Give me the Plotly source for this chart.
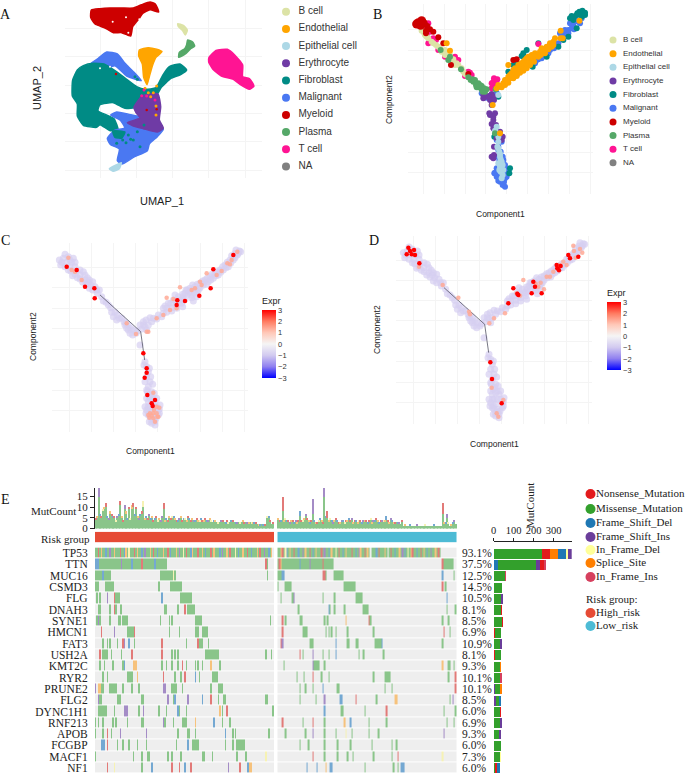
import re
import plotly.graph_objects as go

W, H = 685, 777
SANS = "Liberation Sans"
SERIF = "Liberation Serif"

# ---------- categories ----------
cell_types = ["B cell", "Endothelial", "Epithelial cell", "Erythrocyte", "Fibroblast",
              "Malignant", "Myeloid", "Plasma", "T cell", "NA"]
cell_colors = ["#DCE3A6", "#FFA500", "#ADD8E6", "#6F3BA5", "#008B85",
               "#4A78F2", "#CD0000", "#55A868", "#FF1493", "#808080"]
CELL = dict(zip(cell_types, cell_colors))

# ---------- panel A: UMAP outlines ----------
a_myeloid = [(274,30),(300,26),(330,24),(365,24),(400,24),(425,14),(450,6),(466,12),(476,36),(450,29),(428,40),(418,55),(398,80),(392,108),(365,98),(340,98),(315,84),(285,72),(272,52)]
a_bcell = [(533,71),(550,76),(562,90),(556,105),(548,92),(535,80)]
a_plasma = [(563,120),(578,126),(584,138),(572,146),(556,162),(536,172),(538,157),(554,146),(560,134)]
a_endothelial = [(418,150),(445,143),(470,148),(486,155),(468,172),(458,195),(448,230),(441,254),(431,232),(427,192),(416,168)]
a_tcell = [(627,172),(648,151),(682,148),(704,165),(728,195),(728,230),(748,236),(762,258),(748,268),(720,253),(700,238),(664,228),(638,207),(626,186)]
a_fibroblast = [(218,240),(232,210),(250,197),(280,190),(312,192),(345,212),(380,238),(410,260),(435,268),(468,263),(488,226),(508,200),(540,192),(560,210),(542,224),(512,236),(484,262),(468,288),(442,298),(410,322),(375,325),(340,308),(300,314),(294,332),(342,356),(354,390),(330,392),(300,374),(290,382),(250,376),(232,348),(232,312),(217,288)]
a_malignant_top = [(272,191),(295,175),(320,156),(352,162),(375,190),(398,213),(424,242),(380,228),(345,197),(310,208),(288,198)]
a_malignant_low = [(332,345),(350,336),(385,343),(424,352),(400,368),(440,382),(490,388),(472,410),(448,432),(442,452),(400,472),(366,492),(352,482),(358,447),(332,434),(322,416),(342,392),(374,383),(360,360)]
a_erythrocyte = [(402,322),(426,288),(448,282),(474,282),(482,320),(478,360),(490,385),(472,396),(430,386),(400,378),(382,368),(420,354),(408,338)]
a_epithelial = [(328,506),(350,494),(364,488),(358,506),(340,514)]
a_fibro_patch = [(338,393),(375,396),(365,414),(345,412)]
a_fibro_dots = [(385,405),(400,420),(378,428),(412,395),(350,430),(420,440),(432,375),(350,220),(240,272),(230,272),(405,230),(412,238),(392,418),(368,420)]
a_orange_dots = [(445,278),(460,278),(468,318),(468,345),(435,265),(452,290),(470,258)]
a_pink_dots = [(425,287),(440,288),(465,300),(432,270)]
a_red_dots = [(470,328),(348,222),(385,50),(440,330)]
a_white_dots = [(338,65),(378,52),(418,58),(385,98),(300,205),(330,200)]

# ---------- panel B: trajectory cells ----------
b_malignant = [(545,190),(560,180),(625,130),(640,105),(655,90),(670,80),(685,65),(695,55),(650,100),(665,85),(635,115),(620,135),(600,150),(580,165),(565,178),(545,185),(560,170),(510,200),(490,225),(470,240),(450,260),(630,100),(645,90),(660,70),(410,293),(395,280),(430,285),(440,280),(425,290),(445,440),(455,425),(440,420),(458,470),(450,490),(440,505),(455,505),(465,505),(475,510),(435,518),(445,520),(460,520),(470,520),(440,530),(450,535),(465,535),(450,545),(460,548),(465,560),(458,555),(445,470),
               (670,70),(680,60),(690,70),(672,88),(655,100),(640,95),(612,145),(595,160),(575,175),(555,190),(535,195),(520,205),(500,225),(445,450),(452,455),(448,480),(460,480),(455,495),(465,495),(445,510),(433,520),(455,528),(445,542),(455,542),(462,545),(470,530)]
b_fibroblast = [(700,38),(690,42),(680,45),(672,50),(665,48),(695,50),(705,45),(655,110),(640,120),(680,85),(625,140),(590,170),(548,200),(515,168),(490,195),(475,215),(498,180),(530,150),(565,130),(525,175),(480,505),(478,520),(445,290),(433,410),
                (688,35),(697,32),(705,38),(682,40),(660,55),(670,60),(500,190),(520,160)]
b_erythrocyte = [(425,282),(430,290),(400,295),(408,290),(420,300),(425,315),(420,345),(435,340),(430,360),(438,375),(430,385),(450,395),(440,415),(455,420),(432,465),(430,475),(425,300),
                 (415,288),(400,285),(432,300),(418,340),(430,350),(425,372),(445,400),(458,410),(432,440),(425,470)]
b_epithelial = [(445,425),(442,440),(448,455),(450,470),(455,485),(450,500),(452,515),(458,525),(440,380),(238,118),(445,285),(435,392),
                (445,410),(440,400),(445,445),(450,462),(452,478),(445,490),(458,495),(448,510),(460,510),(455,535)]
b_bcell = [(215,92),(225,105),(245,125),(258,135),(270,145),(285,150),(292,165),(310,178),(320,190),(335,205),(345,222),(355,230),(300,172),
           (235,115),(250,130),(265,140),(275,155),(285,165),(300,165),(305,185),(315,195),(325,195),(340,215),(350,225),(215,85),(222,98),(230,110)]
b_tcell = [(235,70),(225,80),(235,130),(250,115),(265,150),(300,180),(325,180),(360,218),(345,228),(430,245),(435,255),(425,265),(442,238),(565,132),(475,238),(440,262),
           (240,95),(230,105),(230,88),(258,120),(285,170),(315,170),(355,215),(365,225),(432,235),(425,250),(440,240)]
b_myeloid = [(228,100),(240,88),(250,95),(265,112),(303,195),(280,130),(490,180),(500,178),(355,222),(232,78),(228,92)]
b_myeloid_core = [(205,68),(215,62),(212,76),(220,70),(200,72)]
b_plasma = [(300,170),(295,180),(272,150),(333,208),(362,240),(370,245),(378,255),(385,262),(395,268),(405,275),(375,240),(390,255),(410,268),(355,232),(435,400),(437,268),
            (385,250),(395,258),(402,265),(368,238),(380,262),(398,275)]
b_endothelial = [(440,265),(450,258),(460,250),(470,243),(480,235),(490,225),(500,215),(510,205),(520,200),(530,190),(540,180),(550,175),(560,165),(570,155),(580,150),(590,140),(600,130),(610,125),(495,205),(505,195),(515,190),(525,180),(485,220),(475,230),(545,165),(555,160),(565,170),(575,145),(530,175),(540,190),(475,195),(615,115),(632,115),(638,115),(632,92),(688,62),(428,315),(300,152),(290,130),(450,400),
                 (455,262),(465,255),(475,248),(490,235),(500,228),(510,218),(520,212),(530,205),(540,195),(552,185),(572,165),(585,160),(595,148),(605,140),(512,192),(520,185),(535,170),(550,168),(480,225),(465,240),(445,255),(490,210),(610,135)]

# ---------- panels C and D: expression on the trajectory ----------
cloud = [(190,100),(205,95),(220,100),(185,112),(200,112),(215,112),(195,125),(210,125),(225,125),(212,138),(228,138),(240,135),(225,148),(240,150),(255,150),(240,162),(255,165),(268,165),(258,178),(272,180),(285,185),(278,195),(292,205),(305,215),(318,232),(332,248),(335,262),(352,270),(365,280),(378,295),(392,310),(408,325),(390,325),(375,300),(350,285),
         (178,105),(182,120),(195,88),(210,105),(225,112),(205,135),(218,152),(232,158),(248,172),(265,172),(250,140),(262,158),(278,170),(290,195),(268,190),(298,195),(310,228),(325,240),(345,262),(340,275),(358,280),(372,290),(385,300),(400,315),(385,315),(398,330),(412,318),(380,310),
         (430,300),(438,285),(450,278),(425,312),(440,315),(460,280),(475,270),(490,265),(500,250),(515,248),(530,240),(545,235),(505,235),(520,225),(535,215),(550,215),(565,205),(580,195),(595,195),(610,180),(625,170),(640,160),(655,150),(670,135),(685,125),(700,105),(712,90),(718,78),(705,85),(690,105),(675,120),(660,135),(645,145),(630,155),(615,165),(600,175),(585,185),(570,190),(555,205),(540,225),(525,210),(590,215),(575,218),(590,200),
         (430,290),(420,300),(435,305),(455,290),(445,300),(470,282),(485,275),(500,262),(515,258),(530,250),(548,245),(490,250),(512,235),(495,243),(528,228),(545,225),(558,195),(570,200),(555,222),(572,210),(585,205),(600,188),(612,172),(620,178),(632,165),(648,152),(662,142),(678,128),(692,115),(705,98),(715,85),(722,80),(708,75),(695,92),(682,112),(668,125),(652,140),(636,148),(622,160),(608,168),(592,178),(578,180),(562,195),(548,208),(580,228),
         (420,360),(435,410),(440,425),(445,440),(440,455),(450,470),(445,485),(455,500),(448,515),(460,520),(445,530),(465,530),(450,545),(470,545),(440,555),(455,560),(475,555),(445,570),(460,575),(475,570),(455,585),(465,590),(465,600),(448,565),
         (432,420),(448,430),(452,455),(435,470),(458,478),(440,495),(462,505),(452,510),(440,520),(455,525),(470,520),(480,540),(478,552),(460,545),(435,545),(445,545),(438,565),(450,575),(468,580),(478,565),(455,595),(462,582),(448,590),(442,500)]
cloud_expr = [-0.9] * len(cloud)
c_hot = [(200,125),(230,135),(255,185),(283,190),(284,220),(430,385),(440,430),(440,443),(434,458),(442,510),(465,525),(455,535),(458,543),(532,226),(530,240),(555,228),(632,190),(640,133),(700,90),(598,212)]
c_mid = [(205,98),(225,140),(380,295),(408,327),(445,320),(470,280),(490,270),(500,218),(540,187),(575,195),(605,180),(620,145),(650,150),(682,115),(695,105),(712,80),(460,503),(445,570),(460,580),(470,545),(450,565),(475,575),(440,320),(530,250),(510,255),
         (462,555),(470,565),(455,572),(478,548),(465,590),(448,578),(472,575),(460,565),(520,222),(585,190),(600,170),(665,138),(690,118),(215,135),(245,165)]
d_hot = [(193,90),(210,97),(188,110),(203,110),(213,112),(226,137),(439,434),(444,484),(473,557),(508,212),(493,257),(523,232),(568,192),(573,207),(563,227),(593,227),(640,152),(673,112),(703,117),(678,122),(638,142),(198,100),(520,228),(650,145),(645,158)]
d_mid = [(225,147),(296,202),(343,240),(375,282),(378,290),(436,317),(450,302),(483,287),(538,187),(518,227),(528,234),(583,207),(608,177),(628,162),(648,142),(668,142),(688,84),(708,94),(458,587),(463,597),(478,547),(443,510),(618,177),(658,132),(590,195),(575,198),(600,215),(690,100),(695,120),(715,105)]
hot_value, mid_value = 3, 1.4
trunk_left = [(300,210),(422,320)]
trunk_down = [(422,320),(434,405)]
expr_ticks = [-3, -2, -1, 0, 1, 2, 3]

# ---------- panel E: oncoplot ----------
genes = ["TP53","TTN","MUC16","CSMD3","FLG","DNAH3","SYNE1","HMCN1","FAT3","USH2A","KMT2C","RYR2","PRUNE2","FLG2","DYNC1H1","RNF213","APOB","FCGBP","MACF1","NF1"]
percents = ["93.1%","37.5%","12.5%","14.5%","10.5%","8.1%","8.5%","6.9%","10.9%","8.1%","9.3%","10.1%","10.1%","8.5%","6.0%","6.9%","9.3%","6.0%","7.3%","6.0%"]
mut_types = ["Nonsense_Mutation","Missense_Mutation","Frame_Shift_Del","Frame_Shift_Ins","In_Frame_Del","Splice_Site","In_Frame_Ins"]
mut_letters = ["N","M","D","I","Y","S","R"]
mut_colors = ["#E31A1C","#33A02C","#1F78B4","#6A3D9A","#FFFF99","#FF7F00","#D6405E"]
mut_pale = ["#E27A78","#8AC58A","#74A8D2","#A48CC6","#F6F2B4","#F6C27C","#DC88A0"]
risk_names = ["High_risk","Low_risk"]
risk_colors = ["#E64B35","#4DBBD5"]

tp53_high = "MMNMSMMDMMIMMSMMMNMMDSMYMMMNMSMMDMIMMMSMNMMDMMMSMMNMDMMMSMIMMYMNMMDSMMMNMMSMDMMMNMSMMMDMIMMSMNMMMYMDMMSMMNMMDMMMSMNMMIMMDMS"
tp53_low = "MMSNMYDMSMMNMMDMMIMSMMNMDMSMMMNMIMMDMSMMYMNMMDMSMMMNMMDMISMMNMSM.MMMDMNMMMSM.MNMMDMMSMIMDMYMSNMMDMMNMSMDMMIMMSMNM"
high_rows = ["", "0-2D 3-17 18I 19-24 25D 26-31 32N 33-40 41D 42-49 118N 119",
 "0-4 5D 6-10 45-53 54Y 55 119", "0-2 7-12 44 52-59",
 "1 3 8I 13N 14-16 46D 59-66", "2 3 10 13N 14 17 18 48 49 57 62N 64-68",
 "1 2I 3 10 16 17 19-22 45 51 53 69-73 121", "4N 13I 22-26 27N 51 58 69-71 74-77",
 "5 8 10 15 19N 20I 23D 27 46N 63 71N 72-74 78", "3N 5-8 11 18 25N 46N 53 55 57 76-85 118 122",
 "3 6 12 19 20D 26-28S 46 49 53 57 60N 63 69 71 74 80S 86", "5 8 22-25 29S 47N 55 59 62N 69D 72 81-84",
 "0I 2-3S 4-5 10-14 19 25 30 47-48I 53-56 60 80 85-88", "2I 3-4 15-17 32 33 50I 54 55D 64I 74D 80N 85 89 90 118 119",
 "2-7 13 20-22I 30 33I 44 49 57D 58 63 86S 88 91N 123", "0 2 5 12 14 22 32 33 47I 48 54 60-63 69S 82D 88 93",
 "0 5 8N 11 17I 35I 57 64 65 69 90D 95 97 120", "4-6D 8N 15 19 23 29 35 56 64D 67-71 90 95 98-103",
 "0 26 32 36 37 50 53 59 74 75 81 98 104 118Y", "8N 13Y 32 39D 53N 58N 62D 66N 92I 100N 105-106D 107-108S"]
low_rows = ["", "0 1N 2S 3-14 15D 16-21 22I 23-30 31N 32-38 114N 115-121",
 "0-2 3-4D 31-32N 33 39-45 114D 122", "0 5-9 46-53 114N 116",
 "2 10 11I 31 39 54-58 117D", "14 35D 36 39 46 59-62 117 123",
 "3N 5 15 16 32 34 47S 63N 64 114 118", "3N 17-20 33 35 37 40 48 66 115N 119",
 "2N 3I 22-24 40D 48 49 54 55 67-71 72D 114", "15N 17 24I 31 35 40D 56 59 73",
 "4 24I 25-28 32 114S 118 119 122", "13 18 24N 30 35 66 74-77 118 123N",
 "15 19 24 31D 41 42 74 79 123N", "15 26 32I 43-44D 54N 68 81-82S 119 121I",
 "32D 44 45 60 75N 115 123", "3N 17 24N 32 46S 50D 63 75 117 122",
 "5 19 24I 32 40 47Y 51 63 69 70 115I", "15 21 32 41 50 65 79 82",
 "24N 32 41 48 52 66 79 83N 114Y", "20D 27D 33S 36-37D 60 80 83 85-87D"]

high_mis = [4,5,15,6,5,8,9,10,5,4, 7,6,5,5,3,5,6,11,5,3, 9,7,4,9,4,9,10,6,9,5, 4,6,7,10,4,5,4,6,4,5,
            3,4,5,3,4,3,5,9,3,4, 3,5,4,5,5,4,3,3,4,5, 3,4,4,3,5,4,3,4,3,3, 4,3,3,4,3,3,4,3,3,4,
            3,3,3,3,3,2,3,3,3,3, 2,3,2,3,3,3,3,2,2,3, 2,3,3,2,3,2,2,3,2,2, 2,2,2,1,1,2,1,1,2,5, 5,3,2,2]
high_other = [1,1,4,1,1,1,1,2,1,1, 1,1,1,1,1,1,1,2,1,1, 2,1,1,1,1,2,2,1,1,1, 1,1,1,3,1,1,1,1,1,1,
              1,1,1,1,1,1,1,3,1,1, 1,1,1,1,1,1,1,1,1,1, 1,1,1,1,1,1,1,1,1,1, 1,1,1,1,1,1,1,1,1,1,
              1,0,1,1,0,1,0,1,1,0, 1,1,1,0,1,1,0,1,1,0, 1,0,1,1,0,1,1,0,1,1, 1,1,0,1,1,0,1,1,0,1, 1,1,0,1]
high_kind = "NSIDNYSNDISNDNYIDNSNISDNYSNDNSIDNYSDNIDSNDNYSIINSDNSNYDSNDISNDYSNDNSIDNSYDNSNDISYNDSNYDINSDNYSDNSDINYDSNDISNYSDNYSDIDNSYDNS"
low_mis = [4,3,3,8,3,4,3,3,2,3, 3,2,3,2,3,6,3,3,4,6, 4,3,2,3,7,3,2,2,3,4, 3,2,15,5,5,3,4,3,2,3,
           4,3,2,2,3,3,2,3,3,4, 3,4,2,3,3,2,3,3,2,3, 3,3,2,3,4,2,3,3,4,3, 2,3,3,3,3,4,3,2,4,3,
           2,2,3,2,2,2,3,1,1,1, 1,1,1,1,1,1,1,1,1,1, 1,1,1,1,1,1,1,1,1,1, 1,1,1,1,7,2,2,5,2,1, 1,2,3,2]
low_other = [1,1,1,7,1,1,1,1,1,1, 1,1,1,1,1,2,1,1,1,1, 1,1,1,1,7,1,1,1,1,1, 1,1,4,1,3,1,1,1,1,1,
             1,1,1,1,1,1,1,1,1,1, 1,1,1,1,1,1,1,1,1,1, 1,1,1,1,1,1,1,1,1,1, 1,1,1,1,1,2,1,1,1,1,
             1,1,0,1,1,0,1,0,1,0, 0,1,0,0,0,0,1,0,0,0, 0,0,1,0,0,0,0,0,1,0, 0,0,0,0,5,1,1,2,1,0, 1,1,1,0]
low_kind = "SNDNSYDNI" "SNDISNDNYS" "INSDNIDSNY" "DSNIDNSYDI" "SNDNSIDYNS" "DNISNDSYND" "ISNDNYSIDN" "SDNIYSDNSI" "DSNYDISNDS" "NIDYSNDISN" "DSNYISDNSD" "YINDSNSDIY" "NSDIN"

mut_segments = [[("M",240),("N",42),("S",38),("D",40),("Y",12),("I",18)],
    [("D",20),("M",190),("I",22),("N",22),("R",5)], [("M",57),("R",3)], [("M",42)], [("M",35),("I",6)],
    [("M",35),("N",4)], [("M",38),("N",3)], [("N",4),("M",33)], [("M",30),("I",12)], [("N",4),("M",32)],
    [("M",30),("S",5)], [("M",33),("R",4)], [("I",3),("M",30),("S",4)], [("I",8),("M",17),("D",10)],
    [("M",30),("N",2)], [("M",32),("I",6)], [("M",28),("I",8)], [("M",33)], [("M",30),("Y",2)],
    [("M",5),("N",12),("D",14)]]
mut_bar_ticks = [0, 100, 200, 300]
mut_count_ticks = [0, 5, 10, 15]

# ---------- helpers ----------
def xs(p): return [q[0] for q in p]
def ys(p): return [q[1] for q in p]
def dom_x(a, b): return [a / W, b / W]
def dom_y(top, bottom): return [1 - bottom / H, 1 - top / H]

fig = go.Figure()
notes = []
def note(x, y, text, size, family=SANS, anchor="center", angle=0, color="#222222"):
    nudge = {"left": -2, "right": 2, "center": 0}[anchor]
    notes.append(dict(x=(x + nudge) / W, y=1 - y / H, xref="paper", yref="paper", text=text, showarrow=False,
                      font=dict(size=size, family=family, color=color), xanchor=anchor, yanchor="middle",
                      textangle=angle))

def panel_axes(n, px_x, px_y, xr, yr, xgrid, ygrid):
    grid = dict(showgrid=True, gridcolor="#F4F4F4", gridwidth=1, zeroline=False, showline=False,
                showticklabels=False, ticks="", tickmode="array")
    fig.layout[f"xaxis{n}"] = dict(domain=dom_x(*px_x), range=xr, tickvals=xgrid, anchor=f"y{n}", **grid)
    fig.layout[f"yaxis{n}"] = dict(domain=dom_y(*px_y), range=yr, tickvals=ygrid, anchor=f"x{n}", **grid)

def poly(p, color, n=1):
    fig.add_trace(go.Scatter(x=xs(p) + xs(p)[:1], y=ys(p) + ys(p)[:1], mode="lines", fill="toself",
                             fillcolor=color, line=dict(color=color, width=1.5, shape="spline", smoothing=0.5), hoverinfo="skip",
                             showlegend=False, xaxis=f"x{n}", yaxis=f"y{n}"))

def dots(p, color, size, n, opacity=1.0):
    fig.add_trace(go.Scatter(x=xs(p), y=ys(p), mode="markers", showlegend=False, xaxis=f"x{n}", yaxis=f"y{n}",
                             marker=dict(color=color, size=size, opacity=opacity, line=dict(width=0))))

# ---------- A ----------
panel_axes(1, (65, 262), (0, 178), [195, 786], [534, 0], [300, 408, 517, 625, 735], [85, 170, 255, 340, 425, 510])
poly(a_myeloid, CELL["Myeloid"]); poly(a_bcell, CELL["B cell"]); poly(a_plasma, CELL["Plasma"])
poly(a_endothelial, CELL["Endothelial"]); poly(a_tcell, CELL["T cell"])
poly(a_malignant_top, CELL["Malignant"]); poly(a_fibroblast, CELL["Fibroblast"])
poly(a_malignant_low, CELL["Malignant"]); poly(a_fibro_patch, CELL["Fibroblast"])
poly(a_erythrocyte, CELL["Erythrocyte"]); poly(a_epithelial, CELL["Epithelial cell"])
dots(a_fibro_dots, CELL["Fibroblast"], 3, 1); dots(a_orange_dots, CELL["Endothelial"], 3, 1)
dots(a_pink_dots, CELL["T cell"], 3, 1); dots(a_red_dots, CELL["Myeloid"], 2.5, 1); dots(a_white_dots, "#FFFFFF", 2, 1)
note(162, 201, "UMAP_1", 11); note(37, 88, "UMAP_2", 11, angle=-90)

# ---------- B ----------
panel_axes(2, (408.3, 592.7), (4, 194), [175, 728], [582, 12],
           [220, 283, 347, 408, 470, 533, 595, 657, 720], [88, 150, 212, 273, 335, 395, 458, 518, 580])
for pts, name in [(b_malignant, "Malignant"), (b_fibroblast, "Fibroblast"), (b_erythrocyte, "Erythrocyte"),
                  (b_epithelial, "Epithelial cell"), (b_tcell, "T cell"), (b_bcell, "B cell"), (b_myeloid, "Myeloid"),
                  (b_plasma, "Plasma"), (b_endothelial, "Endothelial")]:
    dots(pts, CELL[name], 6, 2)
dots(b_myeloid_core, CELL["Myeloid"], 9, 2)
note(500, 214, "Component1", 8.5); note(389, 100, "Component2", 8.5, angle=-90)

# ---------- C, D ----------
colorscale = [[0, "#0000FF"], [1/6, "#8F7FF0"], [2/6, "#D2CAF0"], [0.5, "#F5F5F5"], [4/6, "#FFC8B8"], [5/6, "#FF7A60"], [1, "#FF0000"]]
def expr_panel(n, px_x, px_y, hot, mid, bar_x, bar_top):
    panel_axes(n, px_x, px_y, [155, 745], [620, 55], [208, 274, 340, 406, 472, 538, 603, 669, 735],
               [128, 188, 250, 310, 372, 433, 495, 556, 617])
    fig.add_trace(go.Scatter(x=xs(cloud), y=ys(cloud), mode="markers", showlegend=False, xaxis=f"x{n}", yaxis=f"y{n}",
                             marker=dict(color=cloud_expr, colorscale=colorscale, cmin=-3, cmax=3, size=7, opacity=0.7, line=dict(width=0))))
    for seg in (trunk_left, trunk_down):
        fig.add_trace(go.Scatter(x=xs(seg), y=ys(seg), mode="lines", line=dict(color="#555566", width=0.8),
                                 showlegend=False, hoverinfo="skip", xaxis=f"x{n}", yaxis=f"y{n}"))
    fig.add_trace(go.Scatter(x=xs(mid), y=ys(mid), mode="markers", showlegend=False, xaxis=f"x{n}", yaxis=f"y{n}",
                             marker=dict(color=[mid_value] * len(mid), colorscale=colorscale, cmin=-3, cmax=3, size=4.5, opacity=0.85, line=dict(width=0))))
    fig.add_trace(go.Scatter(x=xs(hot), y=ys(hot), mode="markers", showlegend=False, xaxis=f"x{n}", yaxis=f"y{n}",
                             marker=dict(color=[hot_value] * len(hot), colorscale=colorscale, cmin=-3, cmax=3, size=4.5, line=dict(width=0),
                                         colorbar=dict(x=bar_x / W, xanchor="left", y=1 - bar_top / H, yanchor="top",
                                                       thicknessmode="pixels", thickness=14, lenmode="pixels", len=68,
                                                       xpad=0, ypad=0, outlinewidth=0, ticks="", tickvals=expr_ticks,
                                                       tickfont=dict(size=7.5, family=SANS, color="#333333")))))
expr_panel(3, (51.7, 248.3), (243.3, 431.7), c_hot, c_mid, 262, 310)
expr_panel(4, (395.7, 592.3), (236, 424.3), d_hot, d_mid, 606.5, 302.5)
note(150, 451, "Component1", 8.5); note(33, 337, "Component2", 8.5, angle=-90)
note(494, 444, "Component1", 8.5); note(377, 330, "Component2", 8.5, angle=-90)
note(262, 301, "Expr", 9, anchor="left"); note(607, 293, "Expr", 9, anchor="left")

# ---------- E ----------
LOW_OFFSET = 126.5
NCOL = 124
fig.layout.xaxis5 = dict(domain=dom_x(95, 457.3), range=[-0.5, 250.6], visible=False, anchor="y5")
fig.layout.yaxis5 = dict(domain=dom_y(488, 528.5), range=[0, 19], anchor="x5", tickvals=mut_count_ticks, showline=True,
                         linecolor="#222222", linewidth=1, ticks="outside", ticklen=4, tickcolor="#222222", showgrid=False,
                         zeroline=False, tickfont=dict(size=11, family=SERIF, color="#222222"))
color_of = dict(zip(mut_letters, mut_pale))
for off, mis, oth, kind in [(0, high_mis, high_other, high_kind), (LOW_OFFSET, low_mis, low_other, low_kind)]:
    cols = [i + off for i in range(NCOL)]
    fig.add_trace(go.Bar(x=cols, y=mis, marker=dict(color=color_of["M"], line=dict(width=0)), width=0.72,
                         showlegend=False, xaxis="x5", yaxis="y5"))
    fig.add_trace(go.Bar(x=cols, y=oth, base=mis, marker=dict(color=[color_of[kind[i % len(kind)]] for i in range(NCOL)], line=dict(width=0)),
                         width=0.72, showlegend=False, xaxis="x5", yaxis="y5"))

fig.layout.yaxis6 = dict(domain=dom_y(531.7, 542.3), range=[-0.5, 0.5], visible=False, anchor="x5")
for off, i in [(0, 0), (LOW_OFFSET, 1)]:
    fig.add_trace(go.Heatmap(x=[c + off for c in range(NCOL)], y=[0], z=[[1] * NCOL], colorscale=[[0, risk_colors[i]], [1, risk_colors[i]]],
                             showscale=False, xaxis="x5", yaxis="y6", hoverinfo="skip"))
note(90, 539, "Risk group", 11, SERIF, "right"); note(53, 511, "MutCount", 11, SERIF)

def parse_row(s):
    row = [0] * NCOL
    for tok in s.split():
        m = re.fullmatch(r"(\d+)(?:-(\d+))?([A-Z]?)", tok)
        a = int(m[1]); b = int(m[2]) if m[2] else a
        code = mut_letters.index(m[3] or "M") + 1
        for c in range(a, min(b, NCOL - 1) + 1):
            row[c] = code
    return row
def parse_chars(s):
    row = [0] * NCOL
    for c, ch in enumerate(s[:NCOL]):
        row[c] = mut_letters.index(ch) + 1 if ch in mut_letters else 0
    return row

stops = ["#EEEEEE"] + mut_pale
n = len(stops)
disc = []
for i, c in enumerate(stops):
    disc += [[i / n, c], [(i + 1) / n, c]]
fig.layout.yaxis7 = dict(domain=dom_y(547.4, 773.7), range=[19.5, -0.5], anchor="x5", tickmode="array",
                         tickvals=list(range(len(genes))), ticktext=genes, ticks="outside", ticklen=4, tickcolor="rgba(0,0,0,0)",
                         showline=False, showgrid=False, zeroline=False, tickfont=dict(size=11.5, family=SERIF, color="#222222"))
for off, rows, first in [(0, high_rows, tp53_high), (LOW_OFFSET, low_rows, tp53_low)]:
    z = [parse_chars(first)] + [parse_row(r) for r in rows[1:]]
    fig.add_trace(go.Heatmap(x=[c + off for c in range(NCOL)], y=list(range(len(genes))), z=z, zmin=0, zmax=n, colorscale=disc,
                             showscale=False, ygap=1, xaxis="x5", yaxis="y7", hoverinfo="skip"))
for i, p in enumerate(percents):
    note(462, 553 + i * 11.32, p, 11.5, SERIF, "left")

# right-hand stacked bars
fig.layout.xaxis8 = dict(domain=dom_x(493.7, 571.7), range=[0, 390], side="top", anchor="y8", tickvals=mut_bar_ticks,
                         showline=True, linecolor="#222222", linewidth=1, ticks="outside", ticklen=3, tickcolor="#222222",
                         showgrid=False, zeroline=False, tickfont=dict(size=10.5, family=SERIF, color="#222222"))
fig.layout.yaxis8 = dict(domain=dom_y(541.7, 773.7), range=[19.5, -1.05], visible=False, anchor="x8")
for letter, color in zip(mut_letters, mut_colors):
    bx, by, bb = [], [], []
    for row, seg in enumerate(mut_segments):
        base = 0
        for l, v in seg:
            if l == letter:
                bx.append(v); by.append(row); bb.append(base)
            base += v
    fig.add_trace(go.Bar(x=bx, y=by, base=bb, orientation="h", width=0.88, marker=dict(color=color, line=dict(width=0)),
                         showlegend=False, xaxis="x8", yaxis="y8"))
note(530, 506, "MutCount", 11, SERIF, angle=-90)

# ---------- legends on a full-page overlay axis ----------
fig.layout.xaxis9 = dict(domain=[0, 1], range=[0, W], visible=False, anchor="y9")
fig.layout.yaxis9 = dict(domain=[0, 1], range=[H, 0], visible=False, anchor="x9")
def legend(labels, colors, mx, tx, ypos, msize, fsize, family, tcolor):
    fig.add_trace(go.Scatter(x=[mx] * len(labels), y=ypos, mode="markers", marker=dict(color=colors, size=msize, line=dict(width=0)),
                             showlegend=False, xaxis="x9", yaxis="y9", hoverinfo="skip"))
    fig.add_trace(go.Scatter(x=[tx] * len(labels), y=ypos, mode="text", text=labels, textposition="middle right",
                             textfont=dict(size=fsize, family=family, color=tcolor),
                             showlegend=False, xaxis="x9", yaxis="y9", hoverinfo="skip"))
legend(cell_types, cell_colors, 286, 298.5, [11.7 + 17.2 * i for i in range(10)], 8, 10, SANS, "#333333")
legend(cell_types, cell_colors, 613, 623, [40 + 13.65 * i for i in range(10)], 7, 8, SANS, "#333333")
legend(mut_types, mut_colors, 590.5, 596, [494, 509, 523, 537, 550, 563, 577], 10, 11, SERIF, "#222222")
legend(risk_names, risk_colors, 590.5, 596, [613, 626], 10, 11, SERIF, "#222222")
note(585.5, 599, "Risk group:", 11, SERIF, "left")

for x, y, t in [(5, 15, "A"), (377, 15, "B"), (5, 241, "C"), (374, 241, "D"), (5, 499, "E")]:
    note(x, y, t, 14, SERIF, "center", color="#111111")

fig.update_layout(width=W, height=H, margin=dict(l=0, r=0, t=0, b=0, autoexpand=False), plot_bgcolor="rgba(0,0,0,0)", paper_bgcolor="white",
                  barmode="overlay", bargap=0, showlegend=False, annotations=notes)
fig.write_html("out.html", config={"displayModeBar": False},
               post_script="document.body.style.margin='0';document.documentElement.style.overflow='hidden';")
